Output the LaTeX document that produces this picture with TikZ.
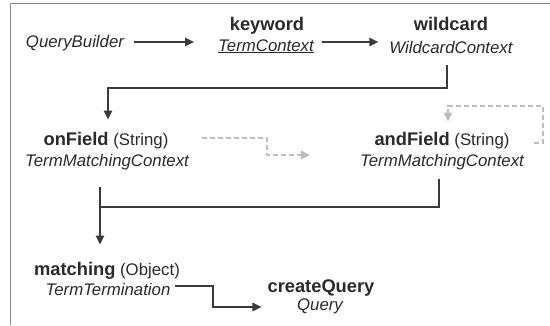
\documentclass[tikz,border=0pt]{standalone}
\usepackage{fontspec}
\setmainfont{Liberation Sans}
\usetikzlibrary{arrows.meta}
\definecolor{txt}{HTML}{2A2A2A}
\definecolor{ln}{HTML}{3A3A3A}
\definecolor{dg}{HTML}{BDBDBD}
\definecolor{fr}{HTML}{8A8A8A}
\newcommand\bfnt{\fontsize{18.3}{20}\selectfont\bfseries}
\tikzset{
  lbl/.style={inner sep=0pt, anchor=base, text=txt, font=\fontsize{16.8}{19}\selectfont},
  itl/.style={lbl, font=\fontsize{16.8}{19}\selectfont\itshape},
  bld/.style={lbl, font=\bfnt},
  conn/.style={draw=ln, line width=1.3pt},
  arr/.style={conn, -{Triangle[length=9pt,width=8.5pt]}},
  darr/.style={draw=dg, line width=1.2pt, dash pattern=on 5pt off 3pt, -{Triangle[length=9pt,width=8.5pt]}},
}
\begin{document}
\begin{tikzpicture}[x=1pt,y=-1pt]
\useasboundingbox (0,0) rectangle (550,325);
\fill[white] (0,0) rectangle (550,325);
\draw[fr, line width=1pt] (10,325) -- (10,3) -- (550,3);

% nodes
\node[itl] (qb) at (75,47) {QueryBuilder};
\node[bld] (kw) at (267,30) {keyword};
\node[itl] (kwc) at (266,51) {\underline{TermContext}};
\node[bld] (wc) at (451,30) {wildcard};
\node[itl] (wcc) at (451,53) {WildcardContext};
\node[lbl] (of) at (106,145) {{\bfnt onField} (String)};
\node[itl] (ofc) at (107,166) {TermMatchingContext};
\node[lbl] (af) at (442,145) {{\bfnt andField} (String)};
\node[itl] (afc) at (442,166) {TermMatchingContext};
\node[lbl] (m) at (107,275) {{\bfnt matching} (Object)};
\node[itl] (mc) at (108,295) {TermTermination};
\node[bld] (cq) at (321,292) {createQuery};
\node[itl] (cqc) at (320,310) {Query};

% helper coordinates
\coordinate (y1) at (0,42);
\coordinate (j1) at (447,88);
\coordinate (j2) at (108,88);
\coordinate (d1) at (267,138);
\coordinate (d2) at (267,155);
\coordinate (l1) at (543,143);
\coordinate (l2) at (543,106);
\coordinate (l3) at (448,106);
\coordinate (j3) at (439,207);
\coordinate (j4) at (100,207);
\coordinate (k1) at (213,286);
\coordinate (k2) at (213,307);

% connectors
\draw[arr, shorten <=10pt, shorten >=24pt] (qb.east |- y1) -- (kwc.west |- y1);
\draw[arr, shorten <=8pt, shorten >=11pt] (kwc.east |- y1) -- (wcc.west |- y1);
\draw[arr, shorten <=11.5pt, shorten >=12pt] (wcc.south -| j1) -- (j1) -- (j2) -- (j2 |- of.north);
\draw[darr, shorten <=33pt, shorten >=50pt] (of.east |- d1) -- (d1) -- (d2) -- (d2 -| afc.west);
\draw[darr, shorten <=10pt, shorten >=10pt] (afc.east |- l1) -- (l1) -- (l2) -- (l3) -- (l3 |- af.north);
\draw[conn, shorten <=9.5pt] (afc.south -| j3) -- (j3) -- (j4);
\draw[arr, shorten <=17.5pt, shorten >=17pt] (ofc.south -| j4) -- (m.north -| j4);
\draw[arr, shorten <=4pt, shorten >=6pt] (mc.east |- k1) -- (k1) -- (k2) -- (k2 -| cq.west);
\end{tikzpicture}
\end{document}
